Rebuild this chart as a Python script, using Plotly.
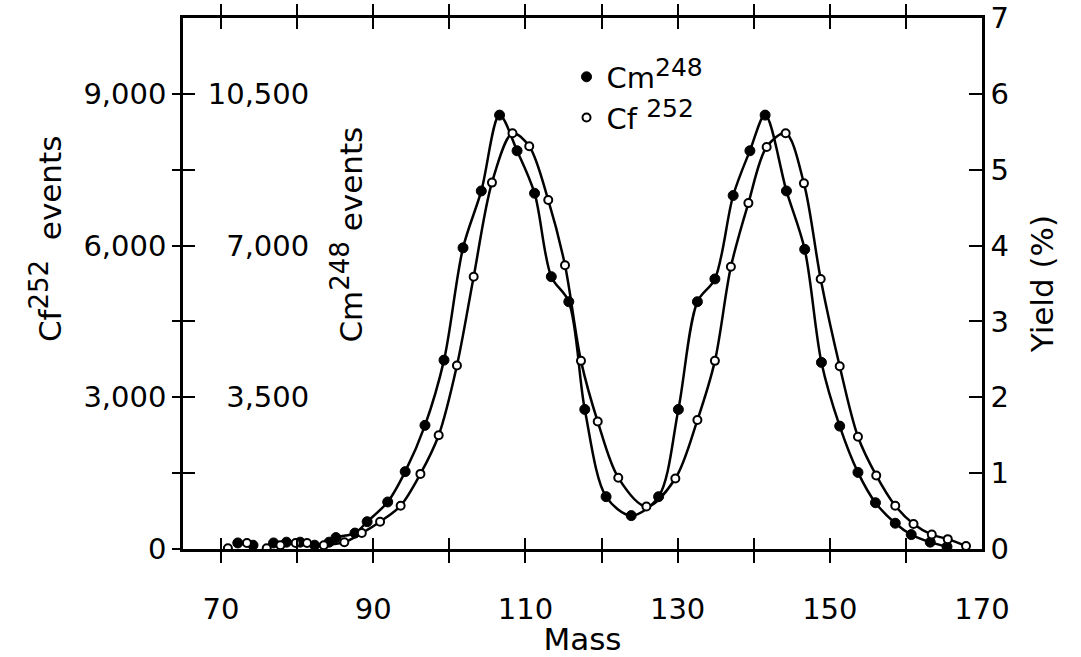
import plotly.graph_objects as go

# ---- data, yield in % ----
mass_cm = [72.2, 74.2, 76.9, 78.6, 80.4, 82.3, 84.2, 85.1, 87.6, 89.2, 91.9, 94.2, 96.8, 99.3,
           101.8, 104.2, 106.6, 108.9, 111.2, 113.4, 115.7, 117.8, 120.6, 123.9, 127.5, 130.1,
           132.6, 134.9, 137.3, 139.5, 141.5, 144.3, 146.7, 148.9, 151.3, 153.7, 156.0, 158.6,
           160.7, 163.2, 165.4]
yield_cm = [0.08, 0.05, 0.08, 0.09, 0.09, 0.05, 0.09, 0.15, 0.21, 0.36, 0.62, 1.02, 1.63, 2.49,
            3.97, 4.72, 5.72, 5.25, 4.69, 3.59, 3.26, 1.84, 0.69, 0.44, 0.69, 1.84,
            3.26, 3.56, 4.66, 5.25, 5.72, 4.72, 3.95, 2.46, 1.62, 1.01, 0.61, 0.34,
            0.19, 0.09, 0.03]

mass_cf = [70.9, 73.4, 76.0, 77.8, 79.8, 81.3, 83.5, 86.2, 88.5, 90.9, 93.6, 96.2, 98.6, 101.0,
           103.2, 105.6, 108.3, 110.5, 113.0, 115.2, 117.3, 119.5, 122.2, 125.9, 129.7, 132.6,
           134.9, 137.0, 139.3, 141.7, 144.2, 146.6, 148.8, 151.3, 153.7, 156.1, 158.6, 161.0,
           163.4, 165.5, 167.9]
yield_cf = [0.01, 0.08, 0.01, 0.05, 0.08, 0.08, 0.05, 0.09, 0.21, 0.36, 0.57, 0.99, 1.50, 2.42,
            3.59, 4.83, 5.48, 5.31, 4.60, 3.74, 2.48, 1.68, 0.94, 0.56, 0.93, 1.70,
            2.48, 3.72, 4.56, 5.30, 5.48, 4.82, 3.56, 2.41, 1.48, 0.97, 0.57, 0.33,
            0.19, 0.13, 0.04]

# axes / ticks
x_tickvals = [70, 80, 90, 100, 110, 120, 130, 140, 150, 160, 170]
x_ticktext = ["70", "", "90", "", "110", "", "130", "", "150", "", "170"]
yield_ticks = [0, 1, 2, 3, 4, 5, 6, 7]
cf_tickvals = [0, 1500, 3000, 4500, 6000, 7500, 9000]
cf_ticktext = ["0", "", "3,000", "", "6,000", "", "9,000"]
cm_tickvals = [0, 1750, 3500, 5250, 7000, 8750, 10500]
cm_ticktext = ["", "", "3,500", "", "7,000", "", "10,500"]
YMAX = 7.0
CF_PER_PCT = 1500
CM_PER_PCT = 1750
LINE_FROM = 83.0

FONT = "DejaVu Sans"
FS = 29      # tick labels
FT = 31      # titles / legend
NB = "\u00a0"


def sup(s, size=25):
    return '<sup><span style="font-size:%dpx">%s</span></sup>' % (size, s)


fig = go.Figure()

cm_line_x = [m for m in mass_cm if m >= LINE_FROM]
cm_line_y = [y for m, y in zip(mass_cm, yield_cm) if m >= LINE_FROM]
cf_line_x = [m for m in mass_cf if m >= LINE_FROM]
cf_line_y = [y for m, y in zip(mass_cf, yield_cf) if m >= LINE_FROM]

fig.add_trace(go.Scatter(x=cm_line_x, y=cm_line_y, mode="lines", showlegend=False,
                         line=dict(color="black", width=2.5, shape="spline", smoothing=0.9),
                         hoverinfo="skip"))
fig.add_trace(go.Scatter(x=cf_line_x, y=cf_line_y, mode="lines", showlegend=False,
                         line=dict(color="black", width=2.5, shape="spline", smoothing=0.9),
                         hoverinfo="skip"))
fig.add_trace(go.Scatter(x=mass_cm, y=yield_cm, mode="markers", name="Cm" + sup("248"),
                         marker=dict(symbol="circle", size=10, color="black",
                                     line=dict(color="black", width=1))))
fig.add_trace(go.Scatter(x=mass_cf, y=yield_cf, mode="markers", name="Cf" + NB + sup("252"),
                         marker=dict(symbol="circle", size=8, color="white",
                                     line=dict(color="black", width=2))))

# dummy traces to activate the extra axes
for ax in ["y2", "y3", "y4"]:
    fig.add_trace(go.Scatter(x=[None], y=[None], yaxis=ax, showlegend=False, hoverinfo="skip"))
fig.add_trace(go.Scatter(x=[None], y=[None], xaxis="x2", showlegend=False, hoverinfo="skip"))

tickfont = dict(family=FONT, size=FS, color="black")

fig.update_layout(
    width=1081, height=657,
    margin=dict(l=183, r=99, t=18, b=108, autoexpand=False),
    paper_bgcolor="white", plot_bgcolor="white",
    font=dict(family=FONT, size=FS, color="black"),
    # bottom/top frame lines and tick marks (no labels)
    xaxis=dict(range=[65, 170], tickvals=x_tickvals, showticklabels=False,
               ticks="inside", ticklen=11, tickwidth=2, tickcolor="black",
               showline=True, linewidth=2.5, linecolor="black", mirror="allticks",
               showgrid=False, zeroline=False, automargin=False,
               title=dict(text="Mass", font=dict(family=FONT, size=FT), standoff=78)),
    # bottom tick labels
    xaxis2=dict(range=[65, 170], overlaying="x", side="bottom", anchor="y",
                tickvals=x_tickvals, ticktext=x_ticktext, ticks="",
                ticklabelstandoff=40,
                showline=False, showgrid=False, zeroline=False, automargin=False,
                tickfont=tickfont),
    yaxis=dict(range=[0, YMAX], tickvals=yield_ticks, side="right",
               ticks="inside", ticklen=13, tickwidth=2, tickcolor="black",
               showline=True, linewidth=2.5, linecolor="black", automargin=False,
               showgrid=False, zeroline=False, tickfont=tickfont,
               title=dict(text="Yield (%)", font=dict(family=FONT, size=FT), standoff=24)),
    # Cf252 events: outer left scale
    yaxis2=dict(range=[0, YMAX * CF_PER_PCT], overlaying="y", side="left",
                tickvals=cf_tickvals, ticktext=cf_ticktext,
                ticks="outside", ticklen=8, tickwidth=2, tickcolor="black",
                showline=True, linewidth=2.5, linecolor="black", automargin=False,
                showgrid=False, zeroline=False, tickfont=tickfont),
    # Cm248 events: inward tick marks on the left frame
    yaxis3=dict(range=[0, YMAX * CM_PER_PCT], overlaying="y", side="left",
                tickvals=cm_tickvals, showticklabels=False,
                ticks="inside", ticklen=12, tickwidth=2, tickcolor="black",
                showline=False, showgrid=False, zeroline=False, automargin=False),
    # Cm248 events: labels drawn inside the frame
    yaxis4=dict(range=[0, YMAX * CM_PER_PCT], overlaying="y", side="left",
                anchor="free", position=0.158,
                tickvals=cm_tickvals, ticktext=cm_ticktext, ticks="",
                showline=False, showgrid=False, zeroline=False, automargin=False,
                tickfont=tickfont),
    legend=dict(x=0.48, y=0.937, xanchor="left", yanchor="top",
                bgcolor="rgba(0,0,0,0)", font=dict(family=FONT, size=FS),
                tracegroupgap=0, itemwidth=30),
    showlegend=True,
)

fig.add_annotation(text="Cf" + sup("252", 26) + NB + NB + "events", textangle=-90,
                   xref="paper", yref="y", x=-0.172, y=4.08, showarrow=False,
                   xanchor="center", yanchor="middle",
                   font=dict(family=FONT, size=FT, color="black"))
fig.add_annotation(text="Cm" + sup("248", 26) + NB + "events", textangle=-90,
                   xref="x", yref="y", x=86.6, y=4.15, showarrow=False,
                   xanchor="center", yanchor="middle",
                   font=dict(family=FONT, size=FT, color="black"))

fig.write_html("out.html")
